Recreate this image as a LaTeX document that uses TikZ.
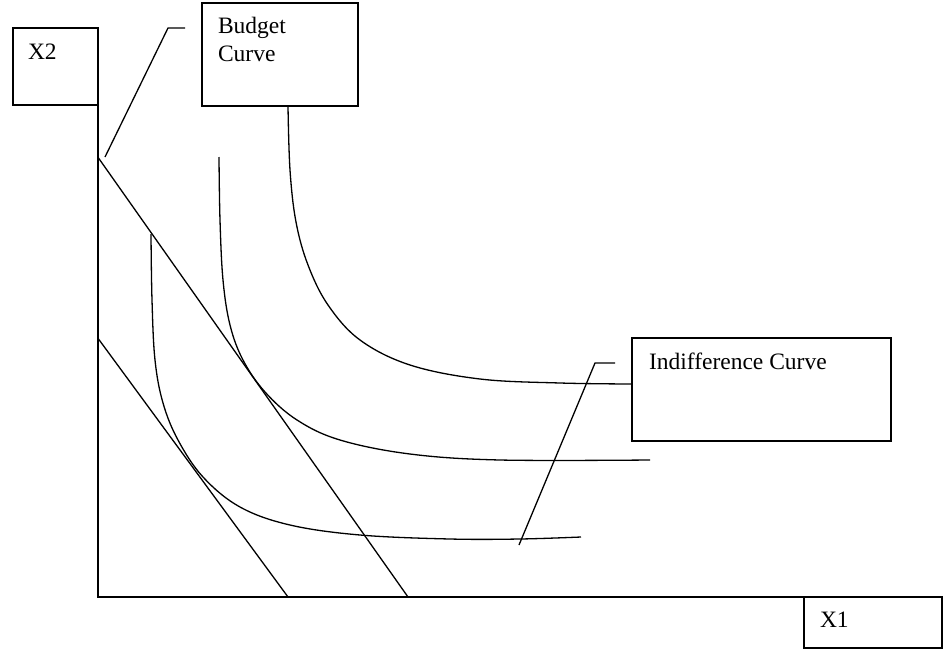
\documentclass[tikz,border=0pt]{standalone}
\usepackage{fontspec}
\setmainfont{Liberation Serif}
\begin{document}
\begin{tikzpicture}[x=1pt,y=-1pt,
  box/.style={draw,line width=1.4pt,inner sep=0pt,outer sep=0pt},
  lab/.style={inner sep=0pt,outer sep=0pt,font=\fontsize{23.5}{28}\selectfont,align=left},
  ln/.style={line width=1.3pt,line cap=butt,line join=miter}]
\useasboundingbox (0,0) rectangle (944,653);
% boxes
\node[box,minimum width=85pt,minimum height=77pt] (bx2) at (55.5,66.5) {};
\node[box,minimum width=156pt,minimum height=103pt] (bbud) at (280,54.5) {};
\node[box,minimum width=259pt,minimum height=103pt] (bind) at (761.5,389.5) {};
\node[box,minimum width=138pt,minimum height=51pt] (bx1) at (873,622.5) {};
% labels
\node[lab,anchor=base west] (tx2) at (28,59) {X2};
\node[lab,anchor=north west] (tbud) at (218,17) {Budget\\Curve};
\node[lab,anchor=base west] (tind) at (649,369) {Indifference Curve};
\node[lab,anchor=base west] (tx1) at (820,627) {X1};
% axes
\coordinate (o) at (98,597);
\coordinate (xend) at (856,597);
\draw[ln] (bx2.south east) -- (o) -- (xend);
% budget lines
\coordinate (b1a) at (98.5,158);
\coordinate (b1b) at (408,597);
\coordinate (b2a) at (98.5,339);
\coordinate (b2b) at (288,597);
\draw[ln] (b1a) -- (b1b);
\draw[ln] (b2a) -- (b2b);
% indifference curves
\draw[ln] plot[smooth,tension=0.6] coordinates {(288,106) (290,170) (296,222) (308,265) (328,305) (360,340) (410,365) (480,379) (560,383) (632,384)};
\draw[ln] plot[smooth,tension=0.6] coordinates {(219,157) (220,220) (223,280) (230,325) (243,360) (265,392) (297,420) (340,440) (410,454) (500,460) (650,460)};
\draw[ln] plot[smooth,tension=0.6] coordinates {(151,234) (152,300) (155,360) (163,403) (178,440) (203,477) (240,507) (290,525) (360,535) (450,539) (520,539) (581,537)};
% callouts
\coordinate (bc1) at (185,28);
\coordinate (bc2) at (168,28);
\coordinate (bc3) at (105,157);
\draw[ln] (bc1) -- (bc2) -- (bc3);
\coordinate (ic1) at (615,363);
\coordinate (ic2) at (595,363);
\coordinate (ic3) at (519,545);
\draw[ln] (ic1) -- (ic2) -- (ic3);
\end{tikzpicture}
\end{document}
